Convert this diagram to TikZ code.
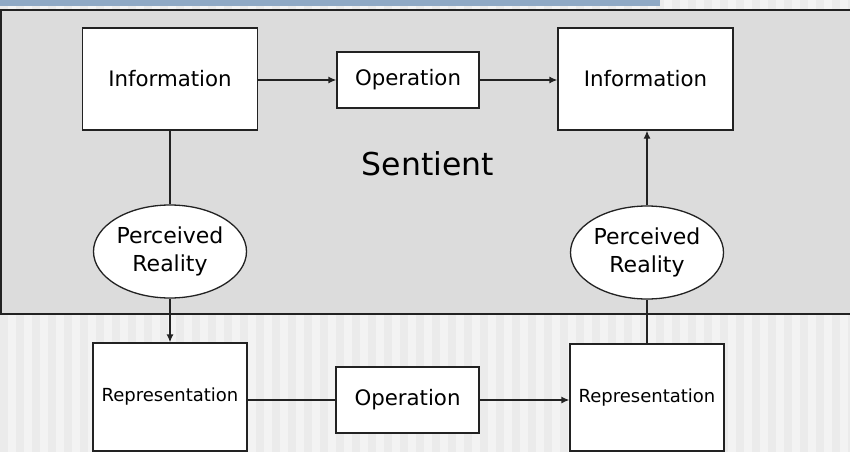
\documentclass[tikz,border=0pt]{standalone}
\usepackage{fontspec}
\setmainfont{DejaVu Sans}
\usetikzlibrary{arrows.meta,shapes.geometric}
\definecolor{bgLight}{HTML}{F3F3F3}
\definecolor{bgStripe}{HTML}{EBEBEB}
\definecolor{barBlue}{HTML}{8FA9C5}
\definecolor{panelGray}{HTML}{DCDCDC}
\definecolor{edge}{HTML}{222222}
\tikzset{
  box/.style={draw=edge, line width=1.3pt, fill=white, inner sep=0pt, align=center},
  bigtext/.style={font=\fontsize{21.3}{25}\selectfont},
  smalltext/.style={font=\fontsize{18}{22}\selectfont},
  oval/.style={ellipse, draw=edge, line width=1.3pt, fill=white, inner sep=0pt,
    minimum width=153pt, minimum height=93pt, align=center,
    font=\fontsize{22}{28}\selectfont},
  link/.style={draw=edge, line width=1.3pt},
  arrowlink/.style={link, -{Latex[length=8pt,width=7pt]}}
}
\begin{document}
\begin{tikzpicture}[x=1pt,y=-1pt]
\useasboundingbox (0,0) rectangle (850,452);
% striped page background
\fill[bgLight] (0,0) rectangle (850,452);
\foreach \s in {0,16,...,848} \fill[bgStripe] (\s,0) rectangle (\s+8,452);
% title bar
\fill[barBlue] (0,0) rectangle (660,6);
% sentient panel
\draw[fill=panelGray, draw=edge, line width=1.6pt] (1,10) rectangle (856,314);

% upper row
\node[box, bigtext, minimum width=175pt, minimum height=102pt] (infoL) at (170,79) {Information};
\node[box, bigtext, minimum width=142pt, minimum height=56pt] (opT) at (408,80) {Operation};
\node[box, bigtext, minimum width=175pt, minimum height=102pt] (infoR) at (645.5,79) {Information};
\node[font=\fontsize{31.5}{36}\selectfont] (sent) at (428,164) {Sentient};

% perception ellipses
\node[oval] (ellL) at (170,251.5) {Perceived\\Reality};
\node[oval] (ellR) at (647,252.5) {Perceived\\Reality};

% lower row
\node[box, smalltext, minimum width=154pt, minimum height=108pt] (repL) at (170,397) {Representation};
\node[box, bigtext, minimum width=143pt, minimum height=66pt] (opB) at (407.5,400) {Operation};
\node[box, smalltext, minimum width=154pt, minimum height=107pt] (repR) at (647,397.5) {Representation};

% connectors
\draw[arrowlink] (infoL.east |- opT.west) -- (opT.west);
\draw[arrowlink] (opT.east) -- (infoR.west |- opT.east);
\draw[link] (infoL.south) -- (ellL.north);
\draw[arrowlink] (ellL.south) -- (repL.north);
\draw[link] (repL.east |- opB.west) -- (opB.west);
\draw[arrowlink] (opB.east) -- (repR.west |- opB.east);
\draw[link] (repR.north) -- (ellR.south);
\draw[arrowlink] (ellR.north) -- (infoR.south -| ellR.north);
\end{tikzpicture}
\end{document}
